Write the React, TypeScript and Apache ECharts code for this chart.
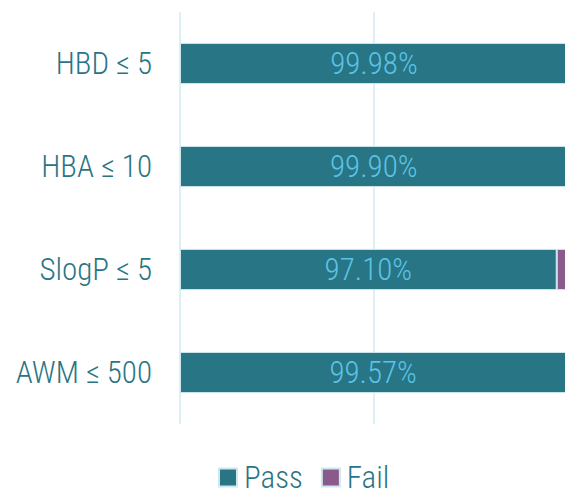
import React, { useEffect, useRef } from "react";
import * as echarts from "echarts";

const categories = ["HBD ≤ 5", "HBA ≤ 10", "SlogP ≤ 5", "AWM ≤ 500"];
const passValues = [99.98, 99.9, 97.1, 99.57];
const failValues = [0.02, 0.1, 2.9, 0.43];
const seriesNames = ["Pass", "Fail"];

const FONT = "'Roboto Condensed', Roboto";

export default function App() {
  const ref = useRef<HTMLDivElement>(null);
  useEffect(() => {
    const chart = echarts.init(ref.current!, null, { renderer: "svg" });
    chart.setOption({
      animation: false,
      textStyle: { fontFamily: FONT },
      grid: { left: 180, right: 0, top: 12, bottom: 65 },
      legend: {
        top: 462,
        left: 218,
        padding: 0,
        itemWidth: 18,
        itemHeight: 18,
        itemGap: 18,
        icon: "rect",
        textStyle: { fontSize: 31, color: "#2a7585", fontFamily: FONT, fontWeight: 300, padding: [0, 0, 12, 2] },
        data: seriesNames,
      },
      xAxis: {
        type: "value",
        min: 0,
        max: 100,
        interval: 50,
        axisLabel: { show: false },
        axisLine: { show: false },
        axisTick: { show: false },
        splitLine: { show: true, lineStyle: { color: "#dcf0f6", width: 2 } },
      },
      yAxis: {
        type: "category",
        inverse: true,
        data: categories,
        axisLine: { show: false },
        axisTick: { show: false },
        axisLabel: { fontSize: 31, color: "#2a7585", margin: 28, fontFamily: FONT, fontWeight: 300 },
      },
      series: [
        {
          name: seriesNames[0],
          type: "bar",
          stack: "total",
          barWidth: "40%",
          data: passValues,
          itemStyle: { color: "#277585", borderColor: "#cfe8ee", borderWidth: 1 },
          label: {
            show: true,
            position: "inside",
            formatter: (p: any) => p.value.toFixed(2) + "%",
            fontSize: 31,
            color: "#5bc3e6",
            fontFamily: FONT,
            fontWeight: 300,
          },
        },
        {
          name: seriesNames[1],
          type: "bar",
          stack: "total",
          barWidth: "40%",
          data: failValues,
          itemStyle: { color: "#8a5a8c", borderColor: "#cfe8ee", borderWidth: 1 },
          label: { show: false },
        },
      ],
    });
    return () => chart.dispose();
  }, []);
  return (
    <div style={{ position: "absolute", left: 0, top: 0, width: 565, height: 489, overflow: "hidden" }}>
      <div ref={ref} style={{ width: 568, height: 489 }} />
    </div>
  );
}
